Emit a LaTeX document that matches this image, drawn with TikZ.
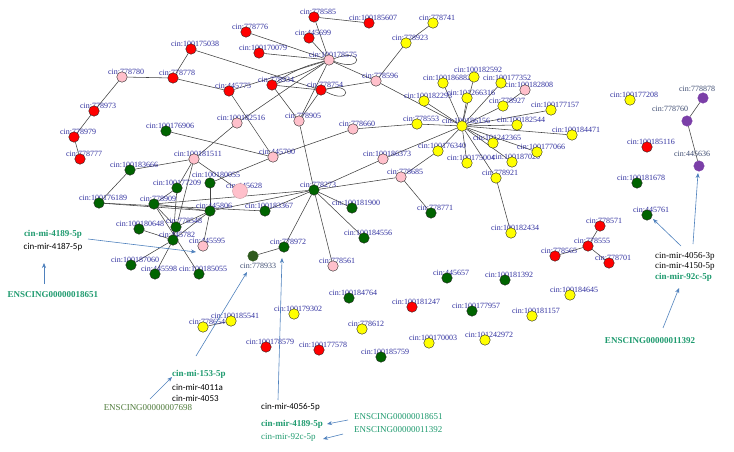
\documentclass[tikz,border=0pt]{standalone}
\usepackage{fontspec}
\setmainfont{Liberation Serif}
\newfontfamily\carlitofont{Carlito}
\usetikzlibrary{arrows.meta}
\definecolor{vred}{HTML}{FF0000}
\definecolor{vyel}{HTML}{FFFF00}
\definecolor{vpink}{HTML}{FFC0CB}
\definecolor{vgreen}{HTML}{006400}
\definecolor{vdkgreen}{HTML}{2F5A1E}
\definecolor{vpurple}{HTML}{7B3FA8}
\definecolor{lblblue}{HTML}{2E2E9E}
\definecolor{lblgray}{HTML}{3C4A70}
\definecolor{mirgreen}{HTML}{1E9A6E}
\definecolor{olivegreen}{HTML}{4E7A3A}
\definecolor{arrowblue}{HTML}{4F81BD}
\pgfdeclarelayer{edgelayer}
\pgfdeclarelayer{lbllayer}
\pgfsetlayers{edgelayer,lbllayer,main}
\tikzset{
  vtx/.style={circle,draw=black!85,line width=0.4pt,minimum size=10.5pt,inner sep=0pt},
  lbl/.style={font=\fontsize{8}{9}\selectfont,text=lblblue,inner sep=0pt},
  edge/.style={draw=black!75,line width=0.55pt},
  ann/.style={font=\fontsize{9}{10}\selectfont,inner sep=0pt},
  annsans/.style={ann,font=\carlitofont\fontsize{9}{10}\selectfont},
  arr/.style={draw=arrowblue,line width=0.6pt,-{Stealth[length=5pt,width=4pt]}}
}
\newcommand{\vxa}[7]{%
  \node[vtx,fill=#4] (#1) at (#2,#3) {};
  \begin{pgfonlayer}{lbllayer}\node[lbl] (l#1) at (#2+#6,#3+#7) {#5};\end{pgfonlayer}}
\newcommand{\vx}[5]{\vxa{#1}{#2}{#3}{#4}{#5}{4}{-5}}
\newcommand{\ed}[2]{\draw[edge] (#1) -- (#2);}
\begin{document}
\begin{tikzpicture}[x=1pt,y=-1pt]
\useasboundingbox (0,0) rectangle (734,452);
% red
\vx{n175038}{191}{49}{vred}{cin:100175038}
\vx{n778778}{173}{78}{vred}{cin:778778}
\vx{n445775}{229}{91}{vred}{cin:445775}
\vx{n778973}{94}{111}{vred}{cin:778973}
\vx{n778979}{74}{137}{vred}{cin:778979}
\vx{n778777}{80}{159}{vred}{cin:778777}
\vx{n778585}{314}{17}{vred}{cin:778585}
\vx{n185607}{369}{23}{vred}{cin:100185607}
\vx{n778776}{246}{32}{vred}{cin:778776}
\vx{n445699}{309}{38}{vred}{cin:445699}
\vx{n170079}{259}{53}{vred}{cin:100170079}
\vx{n778934}{272}{85}{vred}{cin:778934}
\vx{n778754}{321}{90}{vred}{cin:778754}
\vx{n181247}{412}{307}{vred}{cin:100181247}
\vx{n178579}{266}{347}{vred}{cin:100178579}
\vx{n177578}{319}{350}{vred}{cin:100177578}
\vx{n185116}{647}{147}{vred}{cin:100185116}
\vx{n778571}{600}{226}{vred}{cin:778571}
\vx{n778555}{588}{246}{vred}{cin:778555}
\vx{n778701}{609}{263}{vred}{cin:778701}
\vx{n778565}{555}{256}{vred}{cin:778565}
% pink
\vx{n778780}{122}{77}{vpink}{cin:778780}
\vx{n178575}{329}{60}{vpink}{cin:100178575}
\vx{n778596}{376}{81}{vpink}{cin:778596}
\vx{n182516}{237}{123}{vpink}{cin:100182516}
\vx{n778905}{299}{121}{vpink}{cin:778905}
\vx{n445700}{273}{157}{vpink}{cin:445700}
\vx{n778660}{353}{129}{vpink}{cin:778660}
\vx{n181511}{194}{159}{vpink}{cin:100181511}
\vx{n186373}{383}{159}{vpink}{cin:100186373}
\vx{n778685}{401}{177}{vpink}{cin:778685}
\vx{n445595}{203}{246}{vpink}{cin:445595}
\vx{n778561}{333}{266}{vpink}{cin:778561}
\vx{n182808}{525}{90}{vpink}{cin:100182808}
\node[vtx,fill=vpink,draw=vpink!80!black,minimum size=15pt] (n445628) at (240,191) {};
\begin{pgfonlayer}{lbllayer}\node[lbl] (ln445628) at (244,186) {cin:445628};\end{pgfonlayer}
% yellow
\vx{n778741}{433}{23}{vyel}{cin:778741}
\vx{n778923}{406}{43}{vyel}{cin:778923}
\vx{n186156}{462}{126}{vyel}{cin:100186156}
\vxa{n182592}{474}{77}{vyel}{cin:100182592}{4}{-7}
\vx{n186882}{443}{83}{vyel}{cin:100186882}
\vxa{n177352}{501}{83}{vyel}{cin:100177352}{6}{-5}
\vx{n266316}{467}{98}{vyel}{cin:101266316}
\vx{n182293}{424}{101}{vyel}{cin:100182293}
\vx{n778927}{503}{106}{vyel}{cin:778927}
\vx{n177157}{551}{110}{vyel}{cin:100177157}
\vx{n778553}{417}{124}{vyel}{cin:778553}
\vx{n182544}{517}{125}{vyel}{cin:100182544}
\vx{n184471}{572}{135}{vyel}{cin:100184471}
\vx{n242365}{493}{143}{vyel}{cin:101242365}
\vx{n176340}{438}{151}{vyel}{cin:100176340}
\vx{n177066}{537}{152}{vyel}{cin:100177066}
\vx{n175004}{467}{163}{vyel}{cin:100175004}
\vx{n187020}{512}{162}{vyel}{cin:100187020}
\vx{n778921}{496}{178}{vyel}{cin:778921}
\vx{n182434}{511}{233}{vyel}{cin:100182434}
\vx{n177208}{630}{100}{vyel}{cin:100177208}
\vx{n778654}{203}{327}{vyel}{cin:778654}
\vx{n185541}{231}{321}{vyel}{cin:100185541}
\vx{n179302}{294}{314}{vyel}{cin:100179302}
\vx{n778612}{362}{329}{vyel}{cin:778612}
\vx{n170003}{429}{343}{vyel}{cin:100170003}
\vx{n181157}{532}{316}{vyel}{cin:100181157}
\vx{n184645}{570}{295}{vyel}{cin:100184645}
\vx{n242972}{485}{340}{vyel}{cin:101242972}
% green
\vx{n176906}{166}{131}{vgreen}{cin:100176906}
\vx{n183666}{130}{170}{vgreen}{cin:100183666}
\vx{n176189}{99}{203}{vgreen}{cin:100176189}
\vxa{n177209}{177}{188}{vgreen}{cin:100177209}{0}{-5}
\vxa{n180055}{210}{183}{vgreen}{cin:100180055}{6}{-8}
\vx{n778909}{154}{204}{vgreen}{cin:778909}
\vx{n445806}{210}{211}{vgreen}{cin:445806}
\vxa{n180648}{139}{229}{vgreen}{cin:100180648}{1}{-5}
\vxa{n778548}{176}{227}{vgreen}{cin:778548}{8}{-6}
\vx{n445782}{173}{240}{vgreen}{cin:445782}
\vx{n187060}{131}{265}{vgreen}{cin:100187060}
\vx{n445598}{155}{274}{vgreen}{cin:445598}
\vx{n185055}{199}{274}{vgreen}{cin:100185055}
\vx{n778273}{314}{190}{vgreen}{cin:778273}
\vx{n183367}{265}{211}{vgreen}{cin:100183367}
\vx{n181900}{352}{208}{vgreen}{cin:100181900}
\vx{n184556}{364}{238}{vgreen}{cin:100184556}
\vx{n778972}{284}{247}{vgreen}{cin:778972}
\vx{n778771}{431}{213}{vgreen}{cin:778771}
\vx{n181678}{637}{183}{vgreen}{cin:100181678}
\vx{n445761}{647}{215}{vgreen}{cin:445761}
\vx{n445657}{447}{278}{vgreen}{cin:445657}
\vx{n181392}{505}{280}{vgreen}{cin:100181392}
\vx{n184764}{349}{298}{vgreen}{cin:100184764}
\vx{n185759}{381}{357}{vgreen}{cin:100185759}
\vx{n177957}{472}{311}{vgreen}{cin:100177957}
% dark green & purple
\node[vtx,fill=vdkgreen,draw=vdkgreen] (n778933) at (253,256) {};
\begin{pgfonlayer}{lbllayer}\node[lbl,text=lblgray] (ln778933) at (258,266) {cin:778933};\end{pgfonlayer}
\node[vtx,fill=vpurple,draw=vpurple] (n778878) at (703,98) {};
\begin{pgfonlayer}{lbllayer}\node[lbl,text=lblgray] (ln778878) at (697,89) {cin:778878};\end{pgfonlayer}
\node[vtx,fill=vpurple,draw=vpurple] (n778760) at (687,121) {};
\begin{pgfonlayer}{lbllayer}\node[lbl,text=lblgray] (ln778760) at (670,109) {cin:778760};\end{pgfonlayer}
\node[vtx,fill=vpurple,draw=vpurple] (n445636) at (699,166) {};
\begin{pgfonlayer}{lbllayer}\node[lbl,text=lblgray] (ln445636) at (692,154) {cin:445636};\end{pgfonlayer}
% edges
\begin{pgfonlayer}{edgelayer}
\ed{n778780}{n778778}\ed{n778780}{n778973}\ed{n778973}{n778979}\ed{n778979}{n778777}
\ed{n778778}{n175038}\ed{n778778}{n445775}\ed{n175038}{n778754}
\ed{n445775}{n178575}\ed{n445775}{n445700}
\draw[edge] (n778934) to[bend left=10] (n178575);
\draw[edge] (n778934) to[bend right=6] (n178575);
\ed{n778934}{n778754}\ed{n778934}{n778905}\ed{n178575}{n778905}\ed{n778754}{n778905}
\ed{n178575}{n182516}\ed{n178575}{n778776}\ed{n178575}{n445699}\ed{n178575}{n170079}
\ed{n178575}{n778585}\ed{n778585}{n185607}\ed{n178575}{n778596}\ed{n778754}{n778596}
\ed{n778596}{n778923}\ed{n778923}{n778741}\ed{n778596}{n186156}
\draw[edge] (n178575.15) .. controls +(30,-12) and +(30,12) .. (n178575.-15);
\draw[edge] (n778754.10) .. controls +(26,-8) and +(26,14) .. (n778754.-20);
\ed{n778905}{n778273}\ed{n182516}{n181511}\ed{n176906}{n445700}
\ed{n445700}{n778660}\ed{n445700}{n180055}\ed{n778660}{n778553}\ed{n778553}{n186156}
\ed{n186156}{n182592}\ed{n186156}{n186882}\ed{n186156}{n177352}\ed{n186156}{n266316}
\ed{n186156}{n182293}\ed{n186156}{n778927}\ed{n186156}{n177157}\ed{n186156}{n182544}
\ed{n186156}{n184471}\ed{n186156}{n242365}\ed{n186156}{n176340}\ed{n186156}{n177066}
\ed{n186156}{n175004}\ed{n186156}{n187020}\ed{n186156}{n778921}\ed{n186156}{n186373}
\ed{n778927}{n182808}\ed{n778921}{n182434}
\ed{n176340}{n778685}\ed{n778685}{n778273}\ed{n778685}{n778771}\ed{n186373}{n778273}
\ed{n778273}{n181900}\ed{n778273}{n184556}\ed{n778273}{n778561}\ed{n778273}{n778972}
\ed{n778273}{n183367}\ed{n778273}{n445806}\ed{n778273}{n778909}
\ed{n778972}{n778933}
\ed{n181511}{n183666}\ed{n183666}{n176189}\ed{n176189}{n445806}\ed{n176189}{n183367}
\ed{n181511}{n177209}\ed{n181511}{n445628}\ed{n181511}{n445782}
\ed{n177209}{n778909}\ed{n177209}{n445782}\ed{n180055}{n445806}
\ed{n778909}{n445806}\ed{n778909}{n778548}\ed{n778909}{n185055}
\ed{n445806}{n445595}\ed{n445806}{n778548}\ed{n445806}{n445782}
\ed{n445782}{n187060}\ed{n445782}{n445598}\ed{n445782}{n180648}\ed{n445782}{n778548}
\ed{n778878}{n778760}\ed{n778760}{n445636}
\ed{n778555}{n778571}\ed{n778555}{n778701}\ed{n778555}{n778565}
\ed{n185541}{n778654}
\end{pgfonlayer}
% annotations
\node[ann,text=mirgreen,font=\bfseries\fontsize{9}{10}\selectfont] (t4189a) at (53,234) {cin-mi-4189-5p};
\node[annsans] (t4187) at (53,247) {cin-mir-4187-5p};
\node[ann,text=mirgreen,font=\bfseries\fontsize{9}{10}\selectfont] (tens1) at (53,295) {ENSCING00000018651};
\node[ann,text=mirgreen,font=\bfseries\fontsize{9}{10}\selectfont,anchor=west] (t153) at (172,374) {cin-mi-153-5p};
\node[annsans,anchor=west] (t4011) at (172,387) {cin-mir-4011a};
\node[annsans,anchor=west] (t4053) at (172,398) {cin-mir-4053};
\node[ann,text=olivegreen] (tens2) at (148,408) {ENSCING00000007698};
\node[annsans,anchor=west] (t4056b) at (261,407) {cin-mir-4056-5p};
\node[ann,text=mirgreen,font=\bfseries\fontsize{9}{10}\selectfont,anchor=west] (t4189b) at (261,424) {cin-mir-4189-5p};
\node[ann,text=mirgreen,anchor=west] (t92cb) at (261,437) {cin-mir-92c-5p};
\node[ann,text=mirgreen,anchor=west] (tens3) at (354,417) {ENSCING00000018651};
\node[ann,text=mirgreen,anchor=west] (tens4) at (354,430) {ENSCING00000011392};
\node[ann,anchor=west] (t4056a) at (655,256) {cin-mir-4056-3p};
\node[ann,anchor=west] (t4150) at (655,266) {cin-mir-4150-5p};
\node[ann,text=mirgreen,font=\bfseries\fontsize{9}{10}\selectfont,anchor=west] (t92ca) at (655,277) {cin-mir-92c-5p};
\node[ann,text=mirgreen,font=\bfseries\fontsize{9}{10}\selectfont] (tens5) at (650,341) {ENSCING00000011392};
% arrow ends
\coordinate (a1s) at (88,239); \coordinate (a1e) at (196,252);
\coordinate (a2s) at (44,284); \coordinate (a2e) at (44,263);
\coordinate (a3s) at (196,356); \coordinate (a3e) at (247,272);
\coordinate (a4s) at (150,399); \coordinate (a4e) at (172,377);
\coordinate (a5s) at (278,400); \coordinate (a5e) at (282,258);
\coordinate (a6s) at (348,420); \coordinate (a6e) at (327,424);
\coordinate (a7s) at (343,434); \coordinate (a7e) at (323,439);
\coordinate (a8s) at (681,246); \coordinate (a8e) at (653,219);
\coordinate (a9s) at (693,244); \coordinate (a9e) at (698,173);
\coordinate (a10s) at (663,328); \coordinate (a10e) at (679,288);
\draw[arr] (a1s) -- (a1e);
\draw[arr] (a2s) -- (a2e);
\draw[arr] (a3s) -- (a3e);
\draw[arr] (a4s) -- (a4e);
\draw[arr] (a5s) -- (a5e);
\draw[arr] (a6s) -- (a6e);
\draw[arr] (a7s) -- (a7e);
\draw[arr] (a8s) -- (a8e);
\draw[arr] (a9s) -- (a9e);
\draw[arr] (a10s) -- (a10e);
\end{tikzpicture}
\end{document}
